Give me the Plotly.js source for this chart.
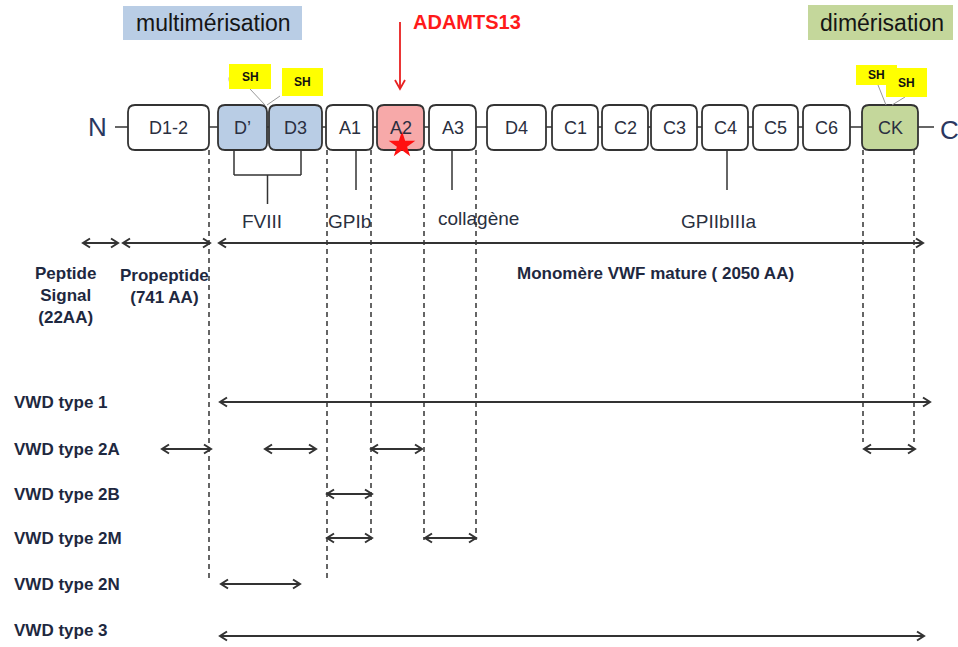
<!DOCTYPE html>
<html><head><meta charset="utf-8">
<script src="https://cdn.plot.ly/plotly-3.0.1.min.js"></script>
<style>html,body{margin:0;padding:0;background:#fff}#c{width:958px;height:647px}</style>
</head><body><div id="c"></div>
<script>
// ---- data ----
const domainNames = ['D1-2','D\u2019','D3','A1','A2','A3','D4','C1','C2','C3','C4','C5','C6','CK'];
const domainStart = [128,218,269,326,377,429,487,552,602,651,702,753,803,862];
const domainEnd   = [209,267,322,373,424,476,546,598,648,697,748,798,850,918];

const dashX      = [209,327,371,424,476,863,914];
const dashBottom = [580,578,540,540,540,442,442];

const bindingLabels = ['FVIII','GPIb','collagène','GPIIbIIIa'];
const bindingLabelX = [262,349,478,718];
const tickX = [356,452,727];          // single stems A1, A3, C4
const fviiiTicks = [234,301];         // bracket D', D3

const segLabels = ['Peptide<br>Signal<br>(22AA)','Propeptide<br>(741 AA)','Monomère VWF mature ( 2050 AA)'];
const segStart  = [83,123,219];
const segEnd    = [118,210,923];
const segLabelX = [65,164,655];

const vwdTypes  = ['VWD type 1','VWD type 2A','VWD type 2B','VWD type 2M','VWD type 2N','VWD type 3'];
const vwdRowY   = [402,449,494,538,584,630];
const vwdArrowY = [402,449,494,538,584,636];
const vwdRanges = [
  [[220,930]],
  [[162,211],[265,316],[371,422],[864,915]],
  [[327,372]],
  [[327,372],[425,476]],
  [[221,300]],
  [[220,924]]
];

const shBoxes = [[229,271,64,89],[282,323,68,96],[856,897,65,85],[886,927,68,97]];

// ---- styles ----
const FONT = 'Liberation Sans, Arial, sans-serif';
const fillFor = {'D\u2019':'#b9cde5','D3':'#b9cde5','A2':'#f7a9a9','CK':'#c4d79b'};
const BOXTOP = 105, BOXBOT = 150, MID = 127;

const shapes = [], ann = [];
function rr(x0,x1,y0,y1,r){
  return `M${x0+r},${y0} L${x1-r},${y0} Q${x1},${y0} ${x1},${y0+r} L${x1},${y1-r} Q${x1},${y1} ${x1-r},${y1} L${x0+r},${y1} Q${x0},${y1} ${x0},${y1-r} L${x0},${y0+r} Q${x0},${y0} ${x0+r},${y0} Z`;
}
function line(x0,y0,x1,y1,color,w,dash){
  shapes.push({type:'line',xref:'x',yref:'y',layer:'below',x0,y0,x1,y1,line:{color:color||'#333',width:w||1.5,dash:dash||'solid'}});
}
function head(x,y,dir,color,w){ // dir: 1 right, -1 left
  const L=7,H=4.5;
  shapes.push({type:'path',xref:'x',yref:'y',layer:'below',path:`M${x-dir*L},${y-H} L${x},${y} L${x-dir*L},${y+H}`,line:{color:color||'#333',width:w||2}});
}
function dbl(a,b,y,w){ line(a,y,b,y,'#333',w||2); head(a,y,-1); head(b,y,1); }
function txt(x,y,t,size,opts){
  ann.push(Object.assign({x,y,xref:'x',yref:'y',text:t,showarrow:false,font:{family:FONT,size:size,color:'#222'},xanchor:'center',yanchor:'middle'},opts||{}));
}

// headers
shapes.push({type:'rect',xref:'x',yref:'y',x0:123,x1:302,y0:6,y1:40,fillcolor:'#b9cde5',line:{width:0},layer:'below'});
txt(213,23,'multimérisation',23,{font:{family:FONT,size:23,color:'#151515'}});
shapes.push({type:'rect',xref:'x',yref:'y',x0:808,x1:953,y0:5,y1:40,fillcolor:'#c4d79b',line:{width:0},layer:'below'});
txt(882,23,'dimérisation',23,{font:{family:FONT,size:23,color:'#151515'}});
txt(467,22,'<b>ADAMTS13</b>',20,{font:{family:FONT,size:20,color:'#ff1a1a'}});
line(400,22,400,88,'#e82020',1.8);
shapes.push({type:'path',xref:'x',yref:'y',layer:'below',path:'M395,80 L400,89 L405,80',line:{color:'#e82020',width:1.8}});

// backbone
line(115,MID,934,MID,'#333',1.5);
txt(97,127,'N',26,{font:{family:FONT,size:26,color:'#2a3760'}});
txt(949,130,'C',26,{font:{family:FONT,size:26,color:'#2a3760'}});

// dashed boundaries
dashX.forEach((x,i)=>line(x,BOXBOT,x,dashBottom[i],'#333',1.5,'5px,4px'));

// domains
domainNames.forEach((n,i)=>{
  shapes.push({type:'path',xref:'x',yref:'y',layer:'below',path:rr(domainStart[i],domainEnd[i],BOXTOP,BOXBOT,7),
    fillcolor:fillFor[n]||'#ffffff',line:{color:'#333',width:1.8}});
  txt((domainStart[i]+domainEnd[i])/2,MID+1,n,18,{font:{family:FONT,size:18,color:'#2a2f40'}});
});

// SH tags
line(250,89,265,105,'#999',1); line(280,96,267,105,'#999',1);
line(878,85,886,105,'#999',1); line(905,97,892,105,'#999',1);
shapes.push({type:'path',xref:'x',yref:'y',layer:'below',path:'M232,74 Q226,78 231,84',line:{color:'#bbb',width:1}});
shBoxes.forEach(b=>{
  shapes.push({type:'rect',xref:'x',yref:'y',layer:'below',x0:b[0],x1:b[1],y0:b[2],y1:b[3],fillcolor:'#ffff00',line:{width:0}});
  txt((b[0]+b[1])/2,(b[2]+b[3])/2,'<b>SH</b>',12,{font:{family:FONT,size:12,color:'#111'}});
});

// binding sites
fviiiTicks.forEach(x=>line(x,BOXBOT,x,175,'#333',1.5));
line(fviiiTicks[0],175,fviiiTicks[1],175,'#333',1.5);
line((fviiiTicks[0]+fviiiTicks[1])/2,175,(fviiiTicks[0]+fviiiTicks[1])/2,204,'#333',1.5);
tickX.forEach(x=>line(x,BOXBOT,x,190,'#333',1.5));
bindingLabels.forEach((t,i)=>txt(bindingLabelX[i],i===2?218:221,t,19,{font:{family:FONT,size:19,color:'#2a3040'}}));

// segments
const segLabelY = [295,286,273];
segLabels.forEach((t,i)=>{
  dbl(segStart[i],segEnd[i],243, 2);
  txt(segLabelX[i], segLabelY[i], '<b>'+t+'</b>',17,{font:{family:FONT,size:17,color:'#1e2840'}});
});

// VWD types
vwdTypes.forEach((t,i)=>{
  txt(12,vwdRowY[i],'<b>'+t+'</b>',17,{xanchor:'left',font:{family:FONT,size:17,color:'#1e2840'}});
  vwdRanges[i].forEach(r=>{
    const y=vwdArrowY[i];
    line(r[0],y,r[1],y,'#333',2);
    head(r[0],y,-1);
    head(r[1],y,1);
  });
});

const star = {x:[402],y:[145],type:'scatter',mode:'markers',marker:{symbol:'star',size:20,color:'#ff1010',line:{width:0}},hoverinfo:'skip'};

Plotly.newPlot('c',[star],{
  width:958,height:647,margin:{l:0,r:0,t:0,b:0},
  paper_bgcolor:'#fff',plot_bgcolor:'rgba(0,0,0,0)',showlegend:false,
  xaxis:{range:[0,958],visible:false,fixedrange:true},
  yaxis:{range:[647,0],visible:false,fixedrange:true},
  shapes:shapes,annotations:ann
},{displayModeBar:false,staticPlot:true});
</script></body></html>
